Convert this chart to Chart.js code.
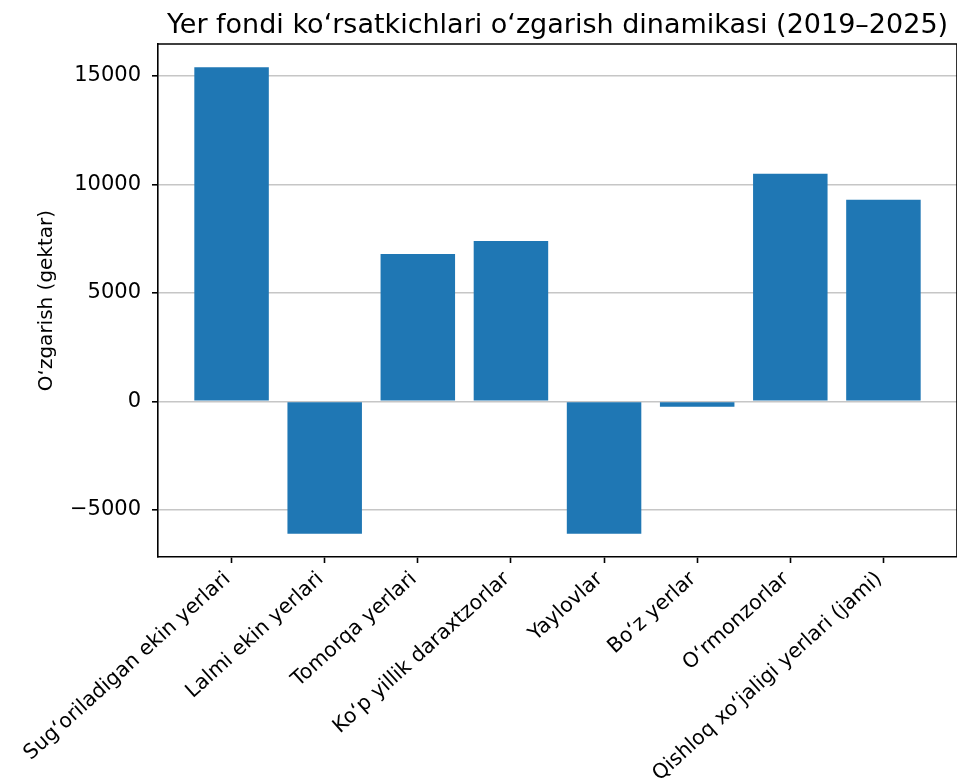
<!DOCTYPE html>
<html>
<head>
<meta charset="utf-8">
<script src="https://cdn.jsdelivr.net/npm/chart.js@4"></script>
<style>
  html, body { margin: 0; padding: 0; background: #fff; }
  #wrap { width: 957px; height: 778px; position: relative; }
</style>
</head>
<body>
<div id="wrap"><canvas id="chart"></canvas></div>
<script>
// data
const categories = [
  'Sug‘oriladigan ekin yerlari',
  'Lalmi ekin yerlari',
  'Tomorqa yerlari',
  'Ko‘p yillik daraxtzorlar',
  'Yaylovlar',
  'Bo‘z yerlar',
  'O‘rmonzorlar',
  'Qishloq xo‘jaligi yerlari (jami)'
];
const changes = [15400, -6100, 6800, 7400, -6100, -250, 10500, 9300];
const yTicks = [-5000, 0, 5000, 10000, 15000];

const titleText = 'Yer fondi ko‘rsatkichlari o‘zgarish dinamikasi (2019–2025)';
const yLabel = 'O‘zgarish (gektar)';

// matplotlib-like 5% margins
const lo = Math.min(0, ...changes), hi = Math.max(0, ...changes);
const pad = (hi - lo) * 0.05;
const xPad = (categories.length - 1 + 0.8) * 0.05;

Chart.defaults.font.family = "'DejaVu Sans', sans-serif";
Chart.defaults.color = '#000';

// spines on top and right like the original frame
const framePlugin = {
  id: 'frame',
  afterDraw(chart) {
    const { ctx, chartArea: a } = chart;
    ctx.save();
    ctx.strokeStyle = '#000';
    ctx.lineWidth = 1.6;
    ctx.beginPath();
    ctx.moveTo(a.left, a.top);
    ctx.lineTo(a.right, a.top);
    ctx.lineTo(a.right, a.bottom);
    ctx.stroke();
    ctx.restore();
  }
};

new Chart(document.getElementById('chart'), {
  type: 'bar',
  data: {
    datasets: [{
      data: changes.map((v, i) => ({ x: i, y: v })),
      backgroundColor: '#1f77b4',
      borderWidth: 0,
      barPercentage: 0.8,
      categoryPercentage: 1.0
    }]
  },
  options: {
    responsive: true,
    maintainAspectRatio: false,
    animation: false,
    layout: { padding: 0 },
    plugins: {
      legend: { display: false },
      tooltip: { enabled: false },
      title: {
        display: true,
        text: titleText,
        fullSize: false,
        font: { size: 27, weight: 'normal', lineHeight: 1.15 },
        color: '#000',
        padding: { top: 10, bottom: 3 }
      }
    },
    scales: {
      x: {
        type: 'linear',
        offset: false,
        min: -0.4 - xPad,
        max: categories.length - 1 + 0.4 + xPad,
        afterBuildTicks(scale) {
          scale.ticks = categories.map((c, i) => ({ value: i }));
        },
        afterFit(scale) { scale.height = 221; },
        ticks: {
          autoSkip: false,
          minRotation: 42,
          maxRotation: 42,
          padding: 4,
          labelOffset: -4,
          font: { size: 20.5 },
          callback: (v) => categories[v]
        },
        grid: {
          offset: false,
          drawOnChartArea: false,
          drawTicks: true,
          tickLength: 6,
          tickColor: '#000',
          tickWidth: 1.6
        },
        border: { display: true, color: '#000', width: 1.6 }
      },
      y: {
        min: lo - pad,
        max: hi + pad,
        z: 1,
        afterBuildTicks(scale) {
          scale.ticks = yTicks.map(v => ({ value: v }));
        },
        afterFit(scale) { scale.width = 158; },
        ticks: {
          padding: 11,
          font: { size: 21 },
          callback: (v) => (v < 0 ? '\u2212' + Math.abs(v) : String(v))
        },
        grid: {
          color: '#c6c6c6',
          lineWidth: 1.6,
          drawTicks: true,
          tickLength: 6,
          tickColor: '#000',
          tickWidth: 1.6
        },
        border: { display: true, color: '#000', width: 1.6 },
        title: {
          display: true,
          text: yLabel,
          font: { size: 20 },
          color: '#000',
          padding: { top: 35, bottom: 0 }
        }
      }
    }
  },
  plugins: [framePlugin]
});
</script>
</body>
</html>
